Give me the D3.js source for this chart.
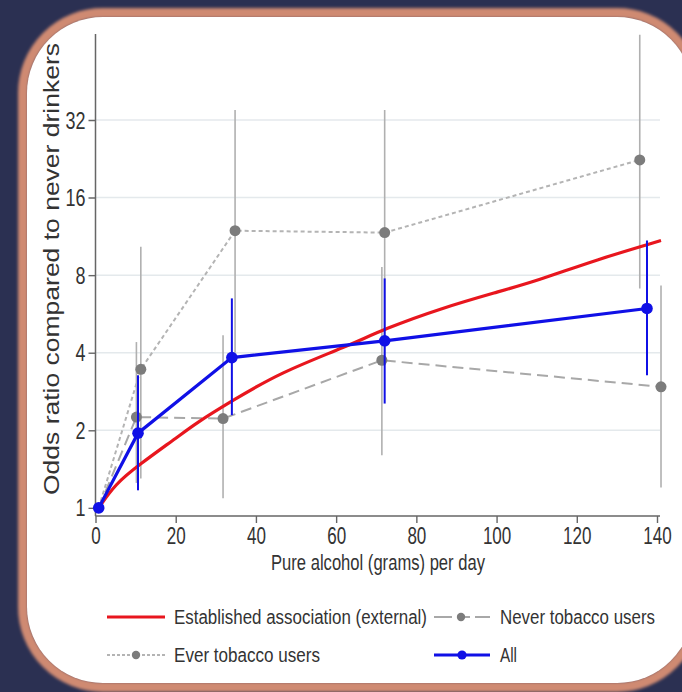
<!DOCTYPE html>
<html lang="en">
<head>
<meta charset="UTF-8">
<title>Odds ratio by alcohol intake</title>
<script src="https://d3js.org/d3.v7.min.js"></script>
<style>
    body { margin: 0; padding: 0; background: #2b3052; }
    svg { display: block; }
    text { font-family: "Liberation Sans", Arial, sans-serif; fill: #333; }
</style>
</head>
<body>
<div id="chart"></div>
<script>
// grams of pure alcohol per day, odds ratios and 95% CI
const refX  = [0.8, 5, 10.6, 21, 25, 34, 46, 63, 72, 86, 100, 110, 125, 141];
const refOR = [1, 1.24, 1.46, 1.91, 2.13, 2.6, 3.35, 4.25, 4.95, 5.94, 6.87, 7.6, 9.2, 10.9];

const neverX  = [0.8, 10.2, 31.8, 71.4, 141];
const neverOR = [1, 2.25, 2.22, 3.74, 2.95];
const neverLo = [null, 1.25, 1.09, 1.6, 1.2];
const neverHi = [null, 4.4, 4.68, 8.6, 7.3];

const everX  = [0.8, 11.3, 34.8, 72.1, 135.7];
const everOR = [1, 3.45, 11.9, 11.7, 22.4];
const everLo = [null, 1.3, 4.0, 3.9, 7.1];
const everHi = [null, 10.3, 35, 35, 68.5];

const allX  = [0.8, 10.6, 34, 72.1, 137.5];
const allOR = [1, 1.95, 3.83, 4.45, 5.94];
const allLo = [null, 1.17, 2.29, 2.54, 3.27];
const allHi = [null, 3.27, 6.5, 7.77, 10.9];

const xTicks = [0, 20, 40, 60, 80, 100, 120, 140];
const yTicks = [1, 2, 4, 8, 16, 32];

const legendItems = [
    {label: "Established association (external)", key: "ref"},
    {label: "Never tobacco users", key: "never"},
    {label: "Ever tobacco users", key: "ever"},
    {label: "All", key: "all"}
];

const width = 682, height = 692;
const RED = "#e8161e", BLUE = "#1010e6", GREYLINE = "#a8a8a8", GREYDOT = "#7c7c7c";

const svg = d3.select("#chart").append("svg")
    .attr("width", width)
    .attr("height", height);

// background + rounded panel
svg.append("rect").attr("width", width).attr("height", height).attr("fill", "#2b3052");

const defs = svg.append("defs");
defs.append("clipPath").attr("id", "panelClip")
    .append("rect")
    .attr("x", 27).attr("y", 17).attr("width", 666).attr("height", 666).attr("rx", 76);
defs.append("filter").attr("id", "soft")
    .append("feGaussianBlur").attr("stdDeviation", 1.6);

svg.append("rect")
    .attr("x", 23).attr("y", 13).attr("width", 674).attr("height", 674).attr("rx", 80)
    .attr("fill", "none")
    .attr("stroke", "#cf8a72")
    .attr("stroke-width", 10)
    .attr("filter", "url(#soft)");

svg.append("rect")
    .attr("x", 27).attr("y", 17).attr("width", 666).attr("height", 666).attr("rx", 76)
    .attr("fill", "#fff");

const g = svg.append("g").attr("clip-path", "url(#panelClip)");

const x = d3.scaleLinear().domain([0, 140]).range([95.5, 657]);
const y = d3.scaleLog().domain([0.93, 69]).range([516, 34]);

// squeeze text horizontally like the stretched original
function squeeze(sel, k) {
    sel.each(function() {
        const w = this.getComputedTextLength();
        d3.select(this).attr("textLength", w * k).attr("lengthAdjust", "spacingAndGlyphs");
    });
}
function fitTo(sel, len) {
    sel.attr("textLength", len).attr("lengthAdjust", "spacingAndGlyphs");
}

// gridlines
g.append("g").selectAll("line")
    .data(yTicks.slice(1))
    .join("line")
    .attr("x1", x(0)).attr("x2", 660)
    .attr("y1", d => y(d)).attr("y2", d => y(d))
    .attr("stroke", "#e4e9ec")
    .attr("stroke-width", 1.5);

// axes
const yAxis = g.append("g")
    .attr("transform", `translate(${x(0)},0)`)
    .call(d3.axisLeft(y).tickValues(yTicks).tickFormat(d3.format("d")).tickSize(7).tickPadding(3));
const xAxis = g.append("g")
    .attr("transform", `translate(0,516)`)
    .call(d3.axisBottom(x).tickValues(xTicks).tickSize(7).tickPadding(5));

[yAxis, xAxis].forEach(a => {
    a.select(".domain").remove();
    a.selectAll("line").attr("stroke", "#666").attr("stroke-width", 1.4);
    a.selectAll("text").attr("font-size", 23).attr("fill", "#333")
        .style("font-family", '"Liberation Sans", Arial, sans-serif');
});
squeeze(xAxis.selectAll("text"), 0.74);
squeeze(yAxis.selectAll("text"), 0.78);
yAxis.selectAll("text").attr("dy", "0.35em");

g.append("line").attr("x1", x(0)).attr("x2", x(0)).attr("y1", 34).attr("y2", 516)
    .attr("stroke", "#666").attr("stroke-width", 1.5);
g.append("line").attr("x1", x(0)).attr("x2", 660).attr("y1", 516).attr("y2", 516)
    .attr("stroke", "#666").attr("stroke-width", 1.5);

// axis titles
const xt = g.append("text")
    .attr("x", 378).attr("y", 570)
    .attr("text-anchor", "middle")
    .attr("font-size", 22)
    .text("Pure alcohol (grams) per day");
fitTo(xt, 214);

g.append("text")
    .attr("transform", "translate(59,495) rotate(-90)")
    .attr("font-size", 22)
    .attr("textLength", 452)
    .attr("lengthAdjust", "spacingAndGlyphs")
    .text("Odds ratio compared to never drinkers");

// confidence intervals
function ciBars(xs, lo, hi, color, w) {
    const rows = xs.map((d, i) => ({x: d, lo: lo[i], hi: hi[i]})).filter(d => d.lo != null);
    g.append("g").selectAll("line")
        .data(rows)
        .join("line")
        .attr("x1", d => x(d.x)).attr("x2", d => x(d.x))
        .attr("y1", d => y(d.lo)).attr("y2", d => y(d.hi))
        .attr("stroke", color)
        .attr("stroke-width", w);
}
ciBars(neverX, neverLo, neverHi, "#b0b0b0", 1.6);
ciBars(everX, everLo, everHi, "#b0b0b0", 1.6);

function series(xs, ys, color, w, dash) {
    const pts = xs.map((d, i) => [d, ys[i]]);
    g.append("path")
        .datum(pts)
        .attr("fill", "none")
        .attr("stroke", color)
        .attr("stroke-width", w)
        .attr("stroke-dasharray", dash)
        .attr("d", d3.line().x(d => x(d[0])).y(d => y(d[1])));
    return pts;
}
function dots(pts, color, r) {
    g.append("g").selectAll("circle")
        .data(pts)
        .join("circle")
        .attr("cx", d => x(d[0])).attr("cy", d => y(d[1]))
        .attr("r", r)
        .attr("fill", color);
}

const neverPts = series(neverX, neverOR, GREYLINE, 2, "11,6");
const everPts = series(everX, everOR, "#b4b4b4", 2, "4,3");
dots(neverPts.slice(1), GREYDOT, 5.5);
dots(everPts.slice(1), GREYDOT, 5.5);

// established association (smooth curve)
g.append("path")
    .datum(refX.map((d, i) => [d, refOR[i]]))
    .attr("fill", "none")
    .attr("stroke", RED)
    .attr("stroke-width", 3.2)
    .attr("d", d3.line().curve(d3.curveBasis).x(d => x(d[0])).y(d => y(d[1])));

ciBars(allX, allLo, allHi, BLUE, 2);
const allPts = series(allX, allOR, BLUE, 3.2, null);
dots(allPts, BLUE, 5.8);

// legend
const leg = g.append("g");
const legPos = {
    ref:   {x: 107, y: 617, tx: 174, w: 253},
    never: {x: 434, y: 617, tx: 500, w: 155},
    ever:  {x: 107, y: 655, tx: 174, w: 146},
    all:   {x: 434, y: 655, tx: 500, w: 17}
};
legendItems.forEach(it => {
    const p = legPos[it.key];
    const row = leg.append("g");
    if (it.key === "ref") {
        row.append("line").attr("x1", p.x).attr("x2", p.x + 58).attr("y1", p.y).attr("y2", p.y)
            .attr("stroke", RED).attr("stroke-width", 3.2);
    } else if (it.key === "never") {
        row.append("line").attr("x1", p.x).attr("x2", p.x + 56).attr("y1", p.y).attr("y2", p.y)
            .attr("stroke", GREYLINE).attr("stroke-width", 2).attr("stroke-dasharray", "18,6,0,4,8,5");
        row.append("circle").attr("cx", p.x + 27).attr("cy", p.y).attr("r", 4.2).attr("fill", GREYDOT);
    } else if (it.key === "ever") {
        row.append("line").attr("x1", p.x).attr("x2", p.x + 58).attr("y1", p.y).attr("y2", p.y)
            .attr("stroke", "#b4b4b4").attr("stroke-width", 2).attr("stroke-dasharray", "3,2");
        row.append("circle").attr("cx", p.x + 29).attr("cy", p.y).attr("r", 4.2).attr("fill", GREYDOT);
    } else {
        row.append("line").attr("x1", p.x).attr("x2", p.x + 56).attr("y1", p.y).attr("y2", p.y)
            .attr("stroke", BLUE).attr("stroke-width", 3.2);
        row.append("circle").attr("cx", p.x + 28).attr("cy", p.y).attr("r", 4.6).attr("fill", BLUE);
    }
    const t = row.append("text")
        .attr("x", p.tx).attr("y", p.y + 7)
        .attr("font-size", 20)
        .text(it.label);
    fitTo(t, p.w);
});
</script>
</body>
</html>
